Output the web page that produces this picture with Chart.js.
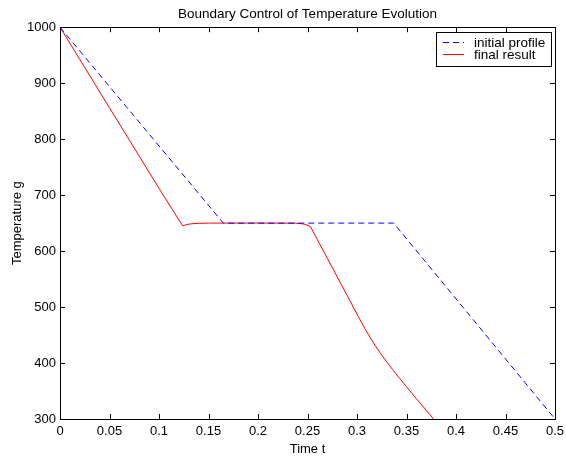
<!DOCTYPE html>
<html>
<head>
<meta charset="utf-8">
<script src="https://cdn.jsdelivr.net/npm/chart.js@4.4.1/dist/chart.umd.min.js"></script>
<style>
  html, body { margin: 0; padding: 0; background: #ffffff; }
  #wrap { width: 566px; height: 457px; }
</style>
</head>
<body>
<div id="wrap"><canvas id="c" width="566" height="457"></canvas></div>
<script>
// ---- data ----
const chartTitle = 'Boundary Control of Temperature Evolution';
const xTitle = 'Time t';
const yTitle = 'Temperature g';
const seriesNames = ['initial profile', 'final result'];

const initialT = [0, 0.165, 0.337, 0.5];
const initialG = [1000, 650, 650, 300];

const finalT = [0, 0.05, 0.1, 0.1239, 0.128, 0.133, 0.14, 0.15, 0.2, 0.238, 0.244, 0.248, 0.2515,
                0.2532, 0.26, 0.27, 0.28, 0.29, 0.30, 0.303, 0.308, 0.313, 0.318, 0.3232, 0.329,
                0.336, 0.343, 0.35, 0.36, 0.37, 0.38];
const finalG = [1000, 856, 712, 645, 647.5, 648.8, 649.6, 650, 650, 649.8, 649, 647.5, 645,
                643, 620.4, 587.2, 554, 520.8, 487.6, 477.7, 461.6, 446.4, 432.2, 418.6, 404.4,
                388.3, 372.8, 357.6, 336.3, 315.3, 294.5];

const xTicks = [0, 0.05, 0.1, 0.15, 0.2, 0.25, 0.3, 0.35, 0.4, 0.45, 0.5];
const yTicks = [300, 400, 500, 600, 700, 800, 900, 1000];

const toPoints = (xs, ys) => xs.map((x, i) => ({ x: x, y: ys[i] }));

const FONT = "'Liberation Sans', Arial, Helvetica, sans-serif";
Chart.defaults.font.family = FONT;
Chart.defaults.font.size = 13;
Chart.defaults.color = '#000000';

// box + inward ticks on all four sides
const boxTicks = {
  id: 'boxTicks',
  afterDatasetsDraw(chart) {
    const ctx = chart.ctx;
    const a = chart.chartArea;
    const xs = chart.scales.x, ys = chart.scales.y;
    const L = 5;
    ctx.save();
    ctx.strokeStyle = '#000000';
    ctx.lineWidth = 1;
    ctx.setLineDash([]);
    ctx.beginPath();
    xTicks.forEach(v => {
      const px = Math.round(xs.getPixelForValue(v)) + 0.5;
      ctx.moveTo(px, a.bottom); ctx.lineTo(px, a.bottom - L);
      ctx.moveTo(px, a.top); ctx.lineTo(px, a.top + L);
    });
    yTicks.forEach(v => {
      const py = Math.round(ys.getPixelForValue(v)) + 0.5;
      ctx.moveTo(a.left, py); ctx.lineTo(a.left + L, py);
      ctx.moveTo(a.right, py); ctx.lineTo(a.right - L, py);
    });
    ctx.stroke();
    ctx.strokeRect(Math.round(a.left) + 0.5, Math.round(a.top) + 0.5,
                   Math.round(a.right - a.left), Math.round(a.bottom - a.top));
    ctx.restore();
  }
};

// legend box in the upper-right corner of the axes
const boxLegend = {
  id: 'boxLegend',
  afterDraw(chart) {
    const ctx = chart.ctx;
    const a = chart.chartArea;
    const x0 = Math.round(a.right) - 119, y0 = Math.round(a.top) + 5;
    const w = 115, h = 34;
    ctx.save();
    ctx.fillStyle = '#ffffff';
    ctx.fillRect(x0 + 0.5, y0 + 0.5, w, h);
    ctx.strokeStyle = '#000000';
    ctx.lineWidth = 1;
    ctx.strokeRect(x0 + 0.5, y0 + 0.5, w, h);
    ctx.font = "13.5px " + FONT;
    ctx.textBaseline = 'middle';
    ctx.textAlign = 'left';
    chart.data.datasets.forEach((ds, i) => {
      const yy = y0 + 10.5 + i * 12;
      ctx.strokeStyle = ds.borderColor;
      ctx.lineWidth = 1;
      ctx.setLineDash(ds.borderDash || []);
      ctx.beginPath();
      ctx.moveTo(x0 + 7, yy);
      ctx.lineTo(x0 + 28, yy);
      ctx.stroke();
      ctx.setLineDash([]);
      ctx.fillStyle = '#000000';
      ctx.fillText(ds.label, x0 + 38, yy + 0.5);
    });
    ctx.restore();
  }
};

new Chart(document.getElementById('c'), {
  type: 'line',
  data: {
    datasets: [
      {
        label: seriesNames[0],
        data: toPoints(initialT, initialG),
        borderColor: '#0000ff',
        borderWidth: 1,
        borderDash: [6, 4],
        pointRadius: 0,
        fill: false,
        tension: 0
      },
      {
        label: seriesNames[1],
        data: toPoints(finalT, finalG),
        borderColor: '#ff0000',
        borderWidth: 1,
        pointRadius: 0,
        fill: false,
        tension: 0
      }
    ]
  },
  options: {
    responsive: false,
    animation: false,
    devicePixelRatio: 1,
    layout: { padding: { left: 0, right: 11, top: 0, bottom: 0 } },
    plugins: {
      legend: { display: false },
      tooltip: { enabled: false },
      title: {
        display: true,
        text: chartTitle,
        fullSize: false,
        color: '#000000',
        font: { size: 13.5, weight: 'normal' },
        padding: { top: 6, bottom: 5 }
      }
    },
    scales: {
      x: {
        type: 'linear',
        min: 0,
        max: 0.5,
        afterBuildTicks: s => { s.ticks = xTicks.map(v => ({ value: v })); },
        ticks: {
          color: '#000000',
          padding: 5,
          maxRotation: 0,
          autoSkip: false,
          callback: v => String(v)
        },
        grid: { display: false, drawTicks: false },
        border: { display: false },
        title: { display: true, text: xTitle, color: '#000000', font: { size: 13 }, padding: { top: 4, bottom: 0 } },
        afterFit: s => { s.height = 38; s.paddingLeft = 0; s.paddingRight = 0; }
      },
      y: {
        type: 'linear',
        min: 300,
        max: 1000,
        afterBuildTicks: s => { s.ticks = yTicks.map(v => ({ value: v })); },
        ticks: {
          color: '#000000',
          padding: 4,
          autoSkip: false,
          callback: v => String(v)
        },
        grid: { display: false, drawTicks: false },
        border: { display: false },
        title: { display: true, text: yTitle, color: '#000000', font: { size: 13 }, padding: { top: 10, bottom: 0 } },
        afterFit: s => { s.width = 60; s.paddingTop = 0; s.paddingBottom = 0; }
      }
    }
  },
  plugins: [boxTicks, boxLegend]
});
</script>
</body>
</html>
